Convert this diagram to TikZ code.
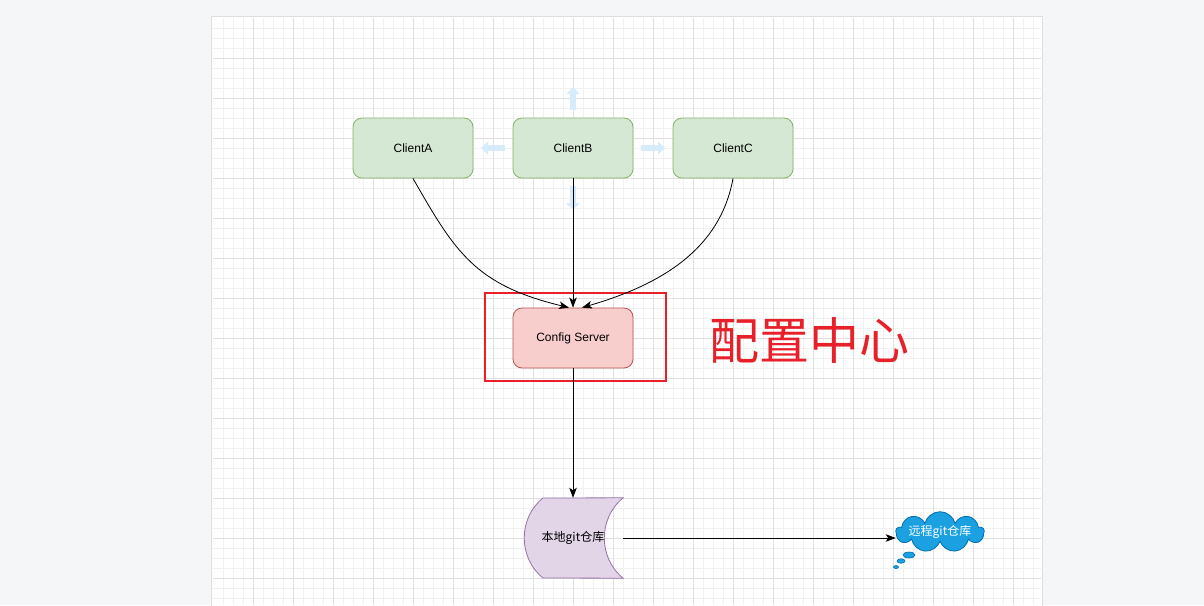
\documentclass[tikz,border=0pt]{standalone}
\usepackage{fontspec}
\setmainfont{Liberation Sans}
\newfontfamily\cjk{Noto Sans CJK SC}
\usetikzlibrary{arrows.meta,shapes.symbols,shapes.geometric}
\definecolor{pagebg}{HTML}{F5F6F8}
\definecolor{gridminor}{HTML}{F1F1F1}
\definecolor{gridmajor}{HTML}{E0E0E0}
\definecolor{clientfill}{HTML}{D5E8D4}
\definecolor{clientline}{HTML}{82B366}
\definecolor{serverfill}{HTML}{F8CECC}
\definecolor{serverline}{HTML}{B85450}
\definecolor{repofill}{HTML}{E1D5E7}
\definecolor{repoline}{HTML}{9673A6}
\definecolor{cloudfill}{HTML}{1BA1E2}
\definecolor{cloudline}{HTML}{006EAF}
\definecolor{markred}{HTML}{E8202A}
\definecolor{hint}{HTML}{D6ECFA}

\begin{document}
\begin{tikzpicture}[x=1pt, y=-1pt, >={Stealth[length=10pt,width=7.5pt,inset=2.5pt]},
    box/.style={rounded corners=9pt, line width=0.8pt, minimum width=120pt,
      minimum height=60pt, font=\fontsize{12}{14}\selectfont},
    client/.style={box, draw=clientline, fill=clientfill},
    server/.style={box, draw=serverline, fill=serverfill},
    link/.style={->, line width=0.8pt},
    bubble/.style={ellipse, draw=cloudline, fill=cloudfill, line width=0.6pt, inner sep=0pt},
    hintarrow/.style={-{Triangle[width=13pt,length=7pt]}, line width=6pt, hint}]
  \useasboundingbox (0,0) rectangle (1204,605);
  \fill[pagebg] (0,0) rectangle (1204,605);
  % page and grid
  \fill[black!13] (211,16) rectangle (1043,606);
  \fill[white] (212,17) rectangle (1042,606);
  \foreach \x in {223,233,...,1033} \draw[gridminor] (\x,18) -- (\x,605);
  \foreach \y in {28,38,...,600} \draw[gridminor] (213,\y) -- (1041,\y);
  \foreach \x in {253,293,...,1013} \draw[gridmajor] (\x,18) -- (\x,605);
  \foreach \y in {58,98,...,600} \draw[gridmajor] (213,\y) -- (1041,\y);

  \node[client] (ca) at (413,148) {ClientA};
  \node[client] (cb) at (573,148) {ClientB};
  \node[client] (cc) at (733,148) {ClientC};
  \node[server] (cs) at (573,338) {Config Server};
  \node[draw=markred, line width=2pt, minimum width=181pt, minimum height=88pt] (frame) at (575,336.5) {};
  \node[text=markred, font=\fontsize{50}{56}\selectfont\cjk] (title) at (809,340) {配置中心};

  % hover hints round ClientB
  \coordinate (up0) at (573,110);   \coordinate (up1) at (573,87);
  \coordinate (lt0) at (505,148);   \coordinate (lt1) at (481,148);
  \coordinate (rt0) at (641,148);   \coordinate (rt1) at (665,148);
  \coordinate (dn0) at (573,186);   \coordinate (dn1) at (573,210);
  \draw[hintarrow] (up0) -- (up1);
  \draw[hintarrow] (lt0) -- (lt1);
  \draw[hintarrow] (rt0) -- (rt1);
  \draw[hintarrow] (dn0) -- (dn1);

  % local repository
  \node[minimum width=100pt, minimum height=80pt, inner sep=0pt] (local) at (573,538) {};
  \draw[line width=0.8pt, draw=repoline, fill=repofill]
    (543,498) -- (local.north east)
    .. controls (598,518) and (598,558) .. (local.south east)
    -- (543,578) .. controls (518,558) and (518,518) .. cycle;
  \node[font=\fontsize{12}{14}\selectfont\cjk] (localtext) at (local) {本地git仓库};

  % remote repository
  \node[cloud, cloud puffs=9, cloud ignores aspect, draw=cloudline, fill=cloudfill, line width=0.8pt,
    minimum width=88pt, minimum height=40pt, inner sep=0pt, outer sep=0pt, text=white,
    font=\fontsize{12}{14}\selectfont\cjk] (remote) at (940,532) {远程git仓库};
  \node[bubble, minimum width=12pt, minimum height=6pt] (b1) at (909,555) {};
  \node[bubble, minimum width=8pt, minimum height=4.5pt] (b2) at (901,561) {};
  \node[bubble, minimum width=5pt, minimum height=3pt] (b3) at (896,567) {};

  % connectors
  \draw[link] (ca.south) .. controls (455,252) and (475,285) .. ([xshift=-4pt]cs.north);
  \draw[link] (cb.south) -- (cs.north);
  \draw[link] (cc.south) .. controls (720,250) and (660,285) .. ([xshift=9pt]cs.north);
  \draw[link] (cs.south) -- (local.north);
  \draw[link] (local.east) -- (local.east -| remote.west);
\end{tikzpicture}
\end{document}
